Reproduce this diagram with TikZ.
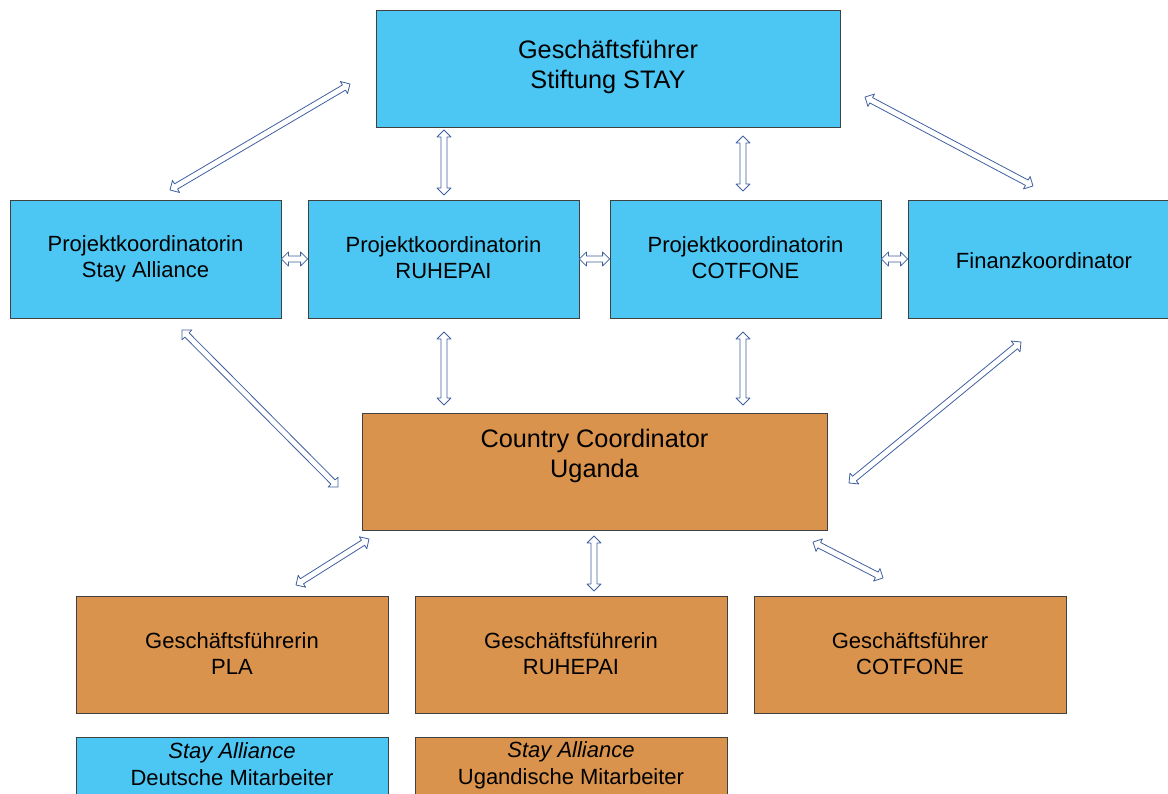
\documentclass[tikz,border=0pt]{standalone}
\usepackage{fontspec}
\setmainfont{Liberation Sans}
\usetikzlibrary{calc}
\definecolor{stayblue}{HTML}{4CC7F4}
\definecolor{stayorange}{HTML}{D9934D}
\definecolor{boxline}{HTML}{404040}
\definecolor{arrowblue}{HTML}{3F5F9F}
\newcommand\smstrut{\rule[-2pt]{0pt}{23pt}}
\newcommand\bgstrut{\rule[-2.5pt]{0pt}{26pt}}
\tikzset{
  bbox/.style={draw=boxline, fill=stayblue, line width=0.8pt, inner sep=0pt, align=center,
    font=\fontsize{22}{26}\selectfont, execute at begin node=\smstrut, execute at end node=\smstrut},
  obox/.style={bbox, fill=stayorange},
  bigtext/.style={align=center, font=\fontsize{25.3}{30}\selectfont, inner sep=0pt,
    execute at begin node=\bgstrut, execute at end node=\bgstrut},
  smalltext/.style={align=center, font=\fontsize{22}{27}\selectfont, inner sep=0pt,
    execute at begin node=\smstrut, execute at end node=\smstrut},
  arrowshape/.style={draw=arrowblue, fill=white, line width=0.8pt, line join=round}
}
% hollow double-headed block arrow between two named points
\newcommand\blockarrow[2]{%
  \draw[arrowshape] (#1)
    -- ($(#1)!7pt!(#2)!7pt!90:(#2)$)
    -- ($(#1)!7pt!(#2)!3pt!90:(#2)$)
    -- ($(#2)!7pt!(#1)!3pt!-90:(#1)$)
    -- ($(#2)!7pt!(#1)!7pt!-90:(#1)$)
    -- (#2)
    -- ($(#2)!7pt!(#1)!7pt!90:(#1)$)
    -- ($(#2)!7pt!(#1)!3pt!90:(#1)$)
    -- ($(#1)!7pt!(#2)!3pt!-90:(#2)$)
    -- ($(#1)!7pt!(#2)!7pt!-90:(#2)$)
    -- cycle;}
\begin{document}
\begin{tikzpicture}[x=1pt,y=-1pt]
\useasboundingbox (0,0) rectangle (1168,794);
\clip (0,0) rectangle (1168,794);
% top
\node[bbox, minimum width=464pt, minimum height=117pt] (top) at (608,68.5) {};
\node[bigtext] (toptext) at (608,67) {Geschäftsführer\\Stiftung STAY};
% row 2
\node[bbox, minimum width=271pt, minimum height=118pt] (p1) at (145.5,259) {Projektkoordinatorin\\Stay Alliance};
\node[bbox, minimum width=271pt, minimum height=118pt] (p2) at (443.5,259) {Projektkoordinatorin\\RUHEPAI};
\node[bbox, minimum width=271pt, minimum height=118pt] (p3) at (745.5,259) {Projektkoordinatorin\\COTFONE};
\node[bbox, minimum width=272pt, minimum height=118pt] (p4) at (1044,259) {Finanzkoordinator};
% country coordinator
\node[obox, minimum width=465pt, minimum height=117pt] (cc) at (594.5,471.5) {};
\node[bigtext] (cctext) at (594.5,456) {Country Coordinator\\Uganda};
% row 3
\node[obox, minimum width=312pt, minimum height=117pt] (g1) at (232,654.5) {Geschäftsführerin\\PLA};
\node[obox, minimum width=312pt, minimum height=117pt] (g2) at (571,654.5) {Geschäftsführerin\\RUHEPAI};
\node[obox, minimum width=312pt, minimum height=117pt] (g3) at (910,654.5) {Geschäftsführer\\COTFONE};
% legend
\node[bbox, minimum width=312pt, minimum height=117pt] (l1) at (232,795.5) {};
\node[obox, minimum width=312pt, minimum height=117pt] (l2) at (571,795.5) {};
\node[smalltext] (l1text) at (232,765.5) {\textit{Stay Alliance}\\Deutsche Mitarbeiter};
\node[smalltext] (l2text) at (571,765.5) {\textit{Stay Alliance}\\Ugandische Mitarbeiter};
% arrow end points
\coordinate (a1s) at (350,84);   \coordinate (a1e) at (170,190);
\coordinate (a2s) at (444,130);  \coordinate (a2e) at (444,195);
\coordinate (a3s) at (743,136);  \coordinate (a3e) at (743,191);
\coordinate (a4s) at (865,97);   \coordinate (a4e) at (1033,186);
\coordinate (a9s) at (182,330);  \coordinate (a9e) at (338,487);
\coordinate (a10s) at (444,332); \coordinate (a10e) at (444,405);
\coordinate (a11s) at (743,332); \coordinate (a11e) at (743,405);
\coordinate (a12s) at (1021,342);\coordinate (a12e) at (849,483);
\coordinate (a13s) at (369,539); \coordinate (a13e) at (296,585);
\coordinate (a14s) at (594,536); \coordinate (a14e) at (594,591);
\coordinate (a15s) at (813,542); \coordinate (a15e) at (883,578);
% arrows
\blockarrow{a1s}{a1e}
\blockarrow{a2s}{a2e}
\blockarrow{a3s}{a3e}
\blockarrow{a4s}{a4e}
\blockarrow{p1.east}{p2.west}
\blockarrow{p2.east}{p3.west}
\blockarrow{p3.east}{p4.west}
\blockarrow{a9s}{a9e}
\blockarrow{a10s}{a10e}
\blockarrow{a11s}{a11e}
\blockarrow{a12s}{a12e}
\blockarrow{a13s}{a13e}
\blockarrow{a14s}{a14e}
\blockarrow{a15s}{a15e}
\end{tikzpicture}
\end{document}
